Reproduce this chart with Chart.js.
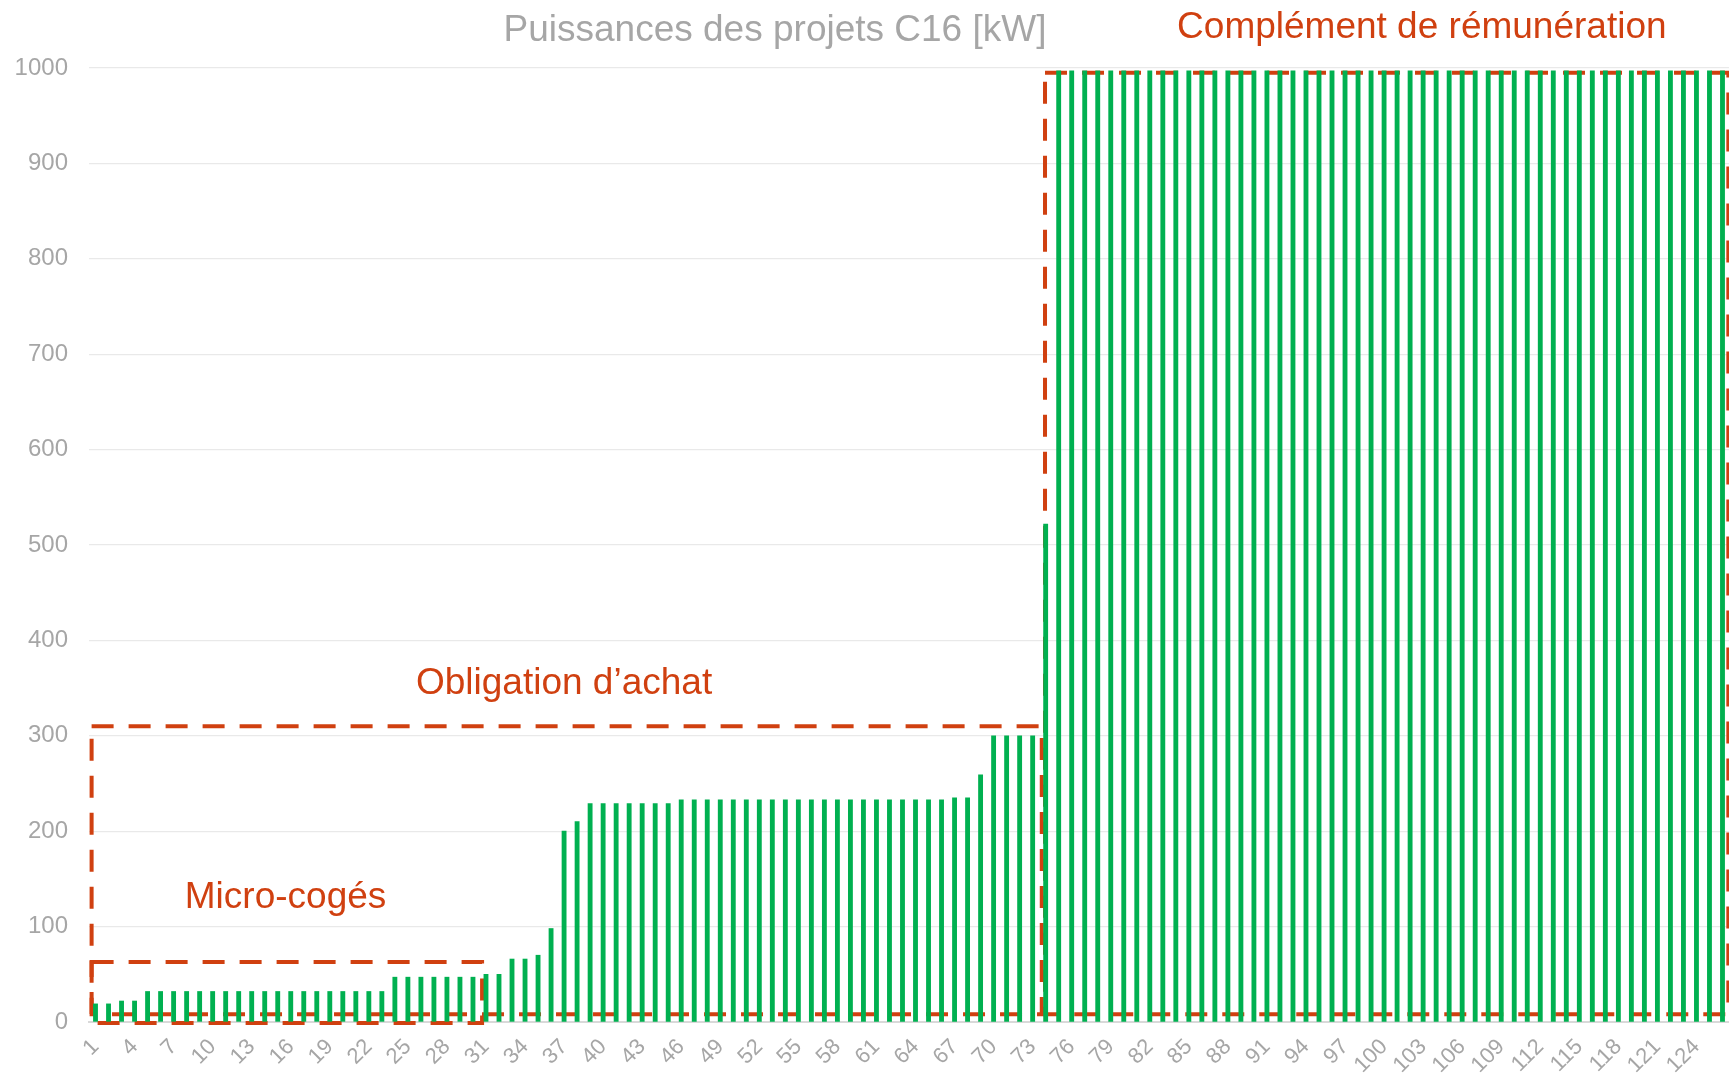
<!DOCTYPE html>
<html>
<head>
<meta charset="utf-8">
<script src="https://cdn.jsdelivr.net/npm/chart.js@4/dist/chart.umd.min.js"></script>
<style>
  html, body { margin: 0; padding: 0; background: #ffffff; }
  #wrap { width: 1729px; height: 1077px; position: relative; }
</style>
</head>
<body>
<div id="wrap"><canvas id="c" width="1729" height="1077"></canvas></div>
<script>
// ---- Data ----
const categories = [
  1,2,3,4,5,6,7,8,9,10,11,12,13,14,15,16,17,18,19,20,
  21,22,23,24,25,26,27,28,29,30,31,32,33,34,35,36,37,38,39,40,
  41,42,43,44,45,46,47,48,49,50,51,52,53,54,55,56,57,58,59,60,
  61,62,63,64,65,66,67,68,69,70,71,72,73,74,75,76,77,78,79,80,
  81,82,83,84,85,86,87,88,89,90,91,92,93,94,95,96,97,98,99,100,
  101,102,103,104,105,106,107,108,109,110,111,112,113,114,115,116,117,118,119,120,
  121,122,123,124,125,126
].map(String);

const puissances = [
  19,19,22,22,32,32,32,32,32,32,32,32,32,32,32,32,32,32,32,32,
  32,32,32,47,47,47,47,47,47,47,50,50,66,66,70,98,200,210,229,229,
  229,229,229,229,229,233,233,233,233,233,233,233,233,233,233,233,233,233,233,233,
  233,233,233,233,233,233,235,235,259,300,300,300,300,522,997,997,997,997,997,997,
  997,997,997,997,997,997,997,997,997,997,997,997,997,997,997,997,997,997,997,997,
  997,997,997,997,997,997,997,997,997,997,997,997,997,997,997,997,997,997,997,997,
  997,997,997,997,997,997
];

const yTicks = [0,100,200,300,400,500,600,700,800,900,1000];

const chartTitle = 'Puissances des projets C16 [kW]';

// Annotation boxes (category index, value)
const boxNames = ['Micro-cogés', 'Obligation d\u2019achat', 'Complément de rémunération'];
const boxX0 = [-0.3, -0.3, 72.95];
const boxX1 = [29.7, 72.7, 125.45];
const boxY0 = [-1, 8, 8];
const boxY1 = [63, 310, 995];
// label anchors (category index, value)
const labelX = [14.6, 36.0, 101.9];
const labelY = [130, 354, 1042];

const RED = '#D04010';
const GREY = '#A6A6A6';
const FONT = '"Liberation Sans", Arial, sans-serif';

const annotationPlugin = {
  id: 'boxes',
  beforeDatasetsDraw(chart) {
    const {ctx, scales: {x, y}} = chart;
    ctx.save();
    ctx.strokeStyle = RED;
    ctx.lineWidth = 4;
    ctx.lineCap = 'butt';
    ctx.setLineDash([22, 15]);
    for (let i = 0; i < boxNames.length; i++) {
      const px0 = x.getPixelForValue(boxX0[i]);
      const px1 = x.getPixelForValue(boxX1[i]);
      const py0 = y.getPixelForValue(boxY0[i]);
      const py1 = y.getPixelForValue(boxY1[i]);
      ctx.beginPath();
      ctx.moveTo(px0, py1);
      ctx.lineTo(px1, py1);
      ctx.lineTo(px1, py0);
      ctx.lineTo(px0, py0);
      ctx.closePath();
      ctx.stroke();
    }
    ctx.restore();
  },
  afterDraw(chart) {
    const {ctx, scales: {x, y}} = chart;
    ctx.save();
    ctx.font = '37px ' + FONT;
    ctx.textAlign = 'center';
    ctx.textBaseline = 'middle';
    ctx.fillStyle = GREY;
    ctx.fillText(chartTitle, 775, 31);
    ctx.fillStyle = RED;
    for (let i = 0; i < boxNames.length; i++) {
      ctx.fillText(boxNames[i], x.getPixelForValue(labelX[i]), y.getPixelForValue(labelY[i]));
    }
    ctx.restore();
  }
};

new Chart(document.getElementById('c'), {
  type: 'bar',
  data: {
    labels: categories,
    datasets: [{
      data: puissances,
      backgroundColor: '#00B050',
      borderWidth: 0,
      barThickness: 4.2
    }]
  },
  options: {
    responsive: false,
    animation: false,
    layout: { padding: { top: 68, right: 0, left: 0, bottom: 0 } },
    plugins: { legend: { display: false }, tooltip: { enabled: false }, title: { display: false } },
    scales: {
      x: {
        offset: true,
        grid: { display: false, drawTicks: false },
        border: { display: true, color: '#D9D9D9', width: 2 },
        ticks: {
          autoSkip: false,
          minRotation: 45,
          maxRotation: 45,
          padding: 12,
          color: GREY,
          font: { family: FONT, size: 22 },
          callback: function(val, i) { return i % 3 === 0 ? categories[i] : ''; }
        },
        afterFit(scale) {
          scale.height = 55;
          scale.paddingRight = 0;
          scale.paddingLeft = 0;
        }
      },
      y: {
        min: 0,
        max: 1000,
        afterBuildTicks(scale) { scale.ticks = yTicks.map(v => ({ value: v })); },
        grid: { color: '#E9E9E9', lineWidth: 1.3, drawTicks: false },
        border: { display: false },
        ticks: {
          padding: 21,
          color: GREY,
          font: { family: FONT, size: 24 },
          callback: function(v) { return String(v); }
        },
        afterFit(scale) { scale.width = 89; }
      }
    }
  },
  plugins: [annotationPlugin]
});
</script>
</body>
</html>
